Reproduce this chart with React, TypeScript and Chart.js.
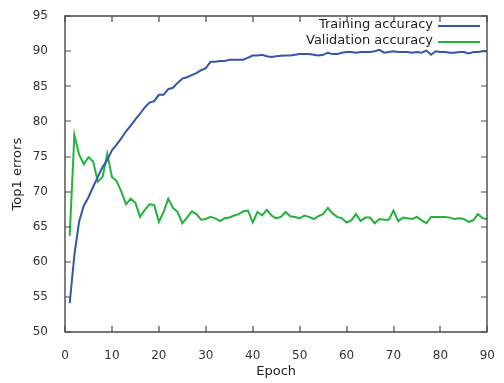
import React, { useEffect, useRef } from "react";
import { Chart, registerables } from "chart.js";

Chart.register(...registerables);

const epochs = [
  1, 2, 3, 4, 5, 6, 7, 8, 9, 10, 11, 12, 13, 14, 15, 16, 17, 18, 19, 20,
  21, 22, 23, 24, 25, 26, 27, 28, 29, 30, 31, 32, 33, 34, 35, 36, 37, 38, 39, 40,
  41, 42, 43, 44, 45, 46, 47, 48, 49, 50, 51, 52, 53, 54, 55, 56, 57, 58, 59, 60,
  61, 62, 63, 64, 65, 66, 67, 68, 69, 70, 71, 72, 73, 74, 75, 76, 77, 78, 79, 80,
  81, 82, 83, 84, 85, 86, 87, 88, 89, 90,
];

const trainingAccuracy = [
  54.1, 61.0, 65.7, 68.0, 69.2, 70.7, 72.1, 73.5, 74.5, 75.9,
  76.7, 77.6, 78.6, 79.4, 80.3, 81.1, 82.0, 82.7, 82.9, 83.8,
  83.8, 84.6, 84.8, 85.5, 86.1, 86.3, 86.6, 86.9, 87.3, 87.6,
  88.5, 88.5, 88.6, 88.6, 88.8, 88.8, 88.8, 88.8, 89.1, 89.4,
  89.4, 89.5, 89.3, 89.2, 89.3, 89.35, 89.4, 89.4, 89.5, 89.6,
  89.6, 89.6, 89.5, 89.4, 89.5, 89.8, 89.6, 89.6, 89.8, 89.9,
  89.9, 89.8, 89.9, 89.9, 89.9, 90.0, 90.2, 89.8, 89.9, 90.0,
  89.9, 89.9, 89.9, 89.8, 89.9, 89.8, 90.1, 89.5, 90.0, 89.9,
  89.9, 89.8, 89.8, 89.9, 89.9, 89.7, 89.9, 89.9, 90.0, 90.0,
];

const validationAccuracy = [
  63.7, 78.1, 75.3, 73.9, 74.9, 74.3, 71.4, 72.1, 75.4, 72.1,
  71.5, 70.0, 68.2, 69.0, 68.4, 66.4, 67.4, 68.2, 68.1, 65.7,
  67.1, 69.0, 67.7, 67.1, 65.5, 66.3, 67.2, 66.8, 66.0, 66.1,
  66.4, 66.2, 65.8, 66.2, 66.3, 66.6, 66.8, 67.2, 67.3, 65.6,
  67.1, 66.6, 67.4, 66.6, 66.2, 66.4, 67.1, 66.5, 66.4, 66.2,
  66.6, 66.4, 66.1, 66.5, 66.8, 67.7, 66.9, 66.4, 66.2, 65.6,
  65.9, 66.8, 65.8, 66.3, 66.3, 65.5, 66.1, 66.0, 66.0, 67.3,
  65.8, 66.3, 66.2, 66.1, 66.4, 65.9, 65.5, 66.4, 66.4, 66.4,
  66.4, 66.3, 66.1, 66.2, 66.1, 65.7, 65.9, 66.8, 66.2, 66.1,
];

const seriesNames = ["Training accuracy", "Validation accuracy"];
const seriesColors = ["#3356a8", "#22b33a"];
const xTicks = [0, 10, 20, 30, 40, 50, 60, 70, 80, 90];
const yTicks = [50, 55, 60, 65, 70, 75, 80, 85, 90, 95];

const FONT = "'DejaVu Sans', sans-serif";

const framePlugin = {
  id: "frame",
  afterDraw(chart: any) {
    const ctx: CanvasRenderingContext2D = chart.ctx;
    const ca = chart.chartArea;
    const left = Math.round(ca.left);
    const right = Math.round(ca.right);
    const top = Math.round(ca.top);
    const bottom = Math.round(ca.bottom);
    const xs = chart.scales.x;
    const ys = chart.scales.y;
    ctx.save();
    ctx.setLineDash([]);
    ctx.globalAlpha = 1;
    ctx.strokeStyle = "#4a4a4a";
    ctx.lineWidth = 1.4;
    ctx.beginPath();
    ctx.moveTo(left, top);
    ctx.lineTo(right, top);
    ctx.lineTo(right, bottom);
    ctx.lineTo(left, bottom);
    ctx.closePath();
    ctx.stroke();
    const tl = 6;
    ctx.lineWidth = 1.2;
    ctx.beginPath();
    for (const v of xTicks) {
      const px = Math.round(xs.getPixelForValue(v));
      ctx.moveTo(px, bottom);
      ctx.lineTo(px, bottom - tl);
      ctx.moveTo(px, top);
      ctx.lineTo(px, top + tl);
    }
    for (const v of yTicks) {
      const py = Math.round(ys.getPixelForValue(v));
      ctx.moveTo(left, py);
      ctx.lineTo(left + tl, py);
      ctx.moveTo(right, py);
      ctx.lineTo(right - tl, py);
    }
    ctx.stroke();

    // legend
    ctx.font = `13px ${FONT}`;
    ctx.textAlign = "right";
    ctx.textBaseline = "middle";
    const textRight = 433;
    const ly = [25, 41];
    seriesNames.forEach((name, i) => {
      ctx.fillStyle = "#222222";
      ctx.fillText(name, textRight, ly[i]);
      ctx.fillStyle = seriesColors[i];
      ctx.fillRect(438, ly[i], 42, 2);
    });
    ctx.restore();
  },
};

export default function App() {
  const canvasRef = useRef<HTMLCanvasElement | null>(null);

  useEffect(() => {
    document.body.style.margin = "0";
    const canvas = canvasRef.current;
    if (!canvas) return;
    const chart = new Chart(canvas, {
      type: "line",
      data: {
        labels: epochs,
        datasets: [
          {
            label: seriesNames[0],
            data: trainingAccuracy,
            borderColor: seriesColors[0],
            backgroundColor: seriesColors[0],
            borderWidth: 2,
            pointRadius: 0,
            tension: 0,
          },
          {
            label: seriesNames[1],
            data: validationAccuracy,
            borderColor: seriesColors[1],
            backgroundColor: seriesColors[1],
            borderWidth: 2,
            pointRadius: 0,
            tension: 0,
          },
        ],
      },
      options: {
        responsive: false,
        animation: false,
        events: [],
        layout: { padding: { left: 0, top: 13, right: 9, bottom: 0 } },
        plugins: {
          legend: { display: false },
          tooltip: { enabled: false },
        },
        scales: {
          x: {
            type: "linear",
            min: 0,
            max: 90,
            grid: { display: false },
            border: { display: false },
            afterFit: (s: any) => {
              s.height = 51;
            },
            afterBuildTicks: (s: any) => {
              s.ticks = xTicks.map((v) => ({ value: v }));
            },
            ticks: {
              padding: 9,
              color: "#333333",
              font: { family: FONT, size: 12 },
              maxRotation: 0,
              autoSkip: false,
            },
            title: {
              display: true,
              text: "Epoch",
              color: "#222222",
              font: { family: FONT, size: 13 },
              padding: { top: 0, bottom: 4 },
            },
          },
          y: {
            type: "linear",
            min: 50,
            max: 95,
            grid: { display: false },
            border: { display: false },
            afterFit: (s: any) => {
              s.width = 65;
            },
            afterBuildTicks: (s: any) => {
              s.ticks = yTicks.map((v) => ({ value: v }));
            },
            ticks: {
              padding: 9,
              color: "#333333",
              font: { family: FONT, size: 12 },
              autoSkip: false,
            },
            title: {
              display: true,
              text: "Top1 errors",
              color: "#222222",
              font: { family: FONT, size: 13 },
              padding: { top: 10, bottom: 0 },
            },
          },
        },
      },
      plugins: [framePlugin],
    });
    return () => chart.destroy();
  }, []);

  return (
    <div style={{ width: 504, height: 383 }}>
      <canvas ref={canvasRef} width={504} height={383} style={{ display: "block" }} />
    </div>
  );
}
